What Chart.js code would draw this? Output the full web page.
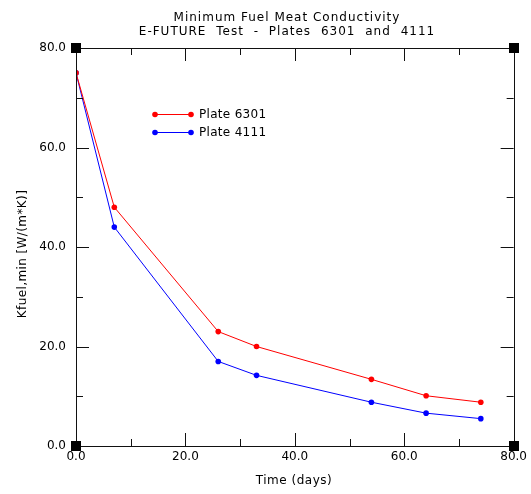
<!DOCTYPE html>
<html>
<head>
<meta charset="utf-8">
<script src="https://cdn.jsdelivr.net/npm/chart.js@4/dist/chart.umd.min.js"></script>
<style>
html,body{margin:0;padding:0;background:#fff;}
#wrap{width:531px;height:494px;position:relative;}
</style>
</head>
<body>
<div id="wrap"><canvas id="c" width="531" height="494"></canvas></div>
<script>
const titleLines = ["Minimum Fuel Meat Conductivity", "E-FUTURE Test - Plates 6301 and 4111"];
const xTitle = "Time (days)";
const yTitle = "Kfuel,min [W/(m*K)]";
const days = [0, 7, 26, 33, 54, 64, 74];
const plate6301 = [75, 48, 23, 20, 13.4, 10.1, 8.8];
const plate4111 = [75, 44, 17, 14.2, 8.8, 6.6, 5.5];
const seriesNames = ["Plate 6301", "Plate 4111"];
const seriesColors = ["#ff0000", "#0000ff"];
const axisMin = 0, axisMax = 80, majorStep = 20, minorStep = 10;

const FONT = "DejaVu Sans";

function pts(xs, ys){ return xs.map((x,i)=>({x:x, y:ys[i]})); }

const decor = {
  id: 'decor',
  afterDraw(chart){
    const ctx = chart.ctx;
    const a = chart.chartArea;
    const xs = chart.scales.x, ys = chart.scales.y;
    ctx.save();
    ctx.strokeStyle = '#111';
    ctx.lineWidth = 1;
    // box
    ctx.strokeRect(Math.round(a.left)+0.5, Math.round(a.top)+0.5, Math.round(a.right-a.left), Math.round(a.bottom-a.top));
    // ticks
    ctx.beginPath();
    for(let v=axisMin; v<=axisMax; v+=minorStep){
      const len = (v % majorStep === 0) ? 13 : 7;
      const px = Math.round(xs.getPixelForValue(v))+0.5;
      ctx.moveTo(px, a.bottom); ctx.lineTo(px, a.bottom-len);
      ctx.moveTo(px, a.top); ctx.lineTo(px, a.top+len);
      const py = Math.round(ys.getPixelForValue(v))+0.5;
      ctx.moveTo(a.left, py); ctx.lineTo(a.left+len, py);
      ctx.moveTo(a.right, py); ctx.lineTo(a.right-len, py);
    }
    ctx.stroke();
    // corner squares
    ctx.fillStyle = '#000';
    [[a.left,a.top],[a.right,a.top],[a.left,a.bottom],[a.right,a.bottom]].forEach(([cx,cy])=>{
      ctx.fillRect(Math.round(cx)-5, Math.round(cy)-5, 10, 10);
    });
    // titles
    ctx.fillStyle = '#000';
    ctx.font = '12px "' + FONT + '"';
    ctx.textAlign = 'center';
    ctx.textBaseline = 'alphabetic';
    ctx.letterSpacing = '1px';
    ctx.wordSpacing = '0px';
    ctx.fillText(titleLines[0], 287, 21);
    ctx.wordSpacing = '5px';
    ctx.fillText(titleLines[1], 287, 35);
    ctx.wordSpacing = '0px';
    ctx.letterSpacing = '0.5px';
    ctx.fillText(xTitle, 294, 484);
    ctx.save();
    ctx.translate(26, 254);
    ctx.rotate(-Math.PI/2);
    ctx.letterSpacing = '0.4px';
    ctx.fillText(yTitle, 0, 0);
    ctx.restore();
    // legend
    ctx.letterSpacing = '0.3px';
    const ly = [114, 132];
    for(let i=0;i<2;i++){
      ctx.strokeStyle = seriesColors[i];
      ctx.fillStyle = seriesColors[i];
      ctx.beginPath();
      ctx.moveTo(155, ly[i]+0.5); ctx.lineTo(191, ly[i]+0.5);
      ctx.stroke();
      [155,191].forEach(x=>{ctx.beginPath(); ctx.arc(x, ly[i]+0.5, 2.8, 0, Math.PI*2); ctx.fill();});
      ctx.fillStyle = '#000';
      ctx.textAlign = 'left';
      ctx.textBaseline = 'middle';
      ctx.fillText(seriesNames[i], 199, ly[i]+1);
    }
    ctx.restore();
  }
};

new Chart(document.getElementById('c'), {
  type: 'line',
  data: {
    datasets: [
      {label: seriesNames[0], data: pts(days, plate6301), borderColor: seriesColors[0], backgroundColor: seriesColors[0], borderWidth: 1, pointRadius: 2.8, pointBorderWidth: 0, tension: 0},
      {label: seriesNames[1], data: pts(days, plate4111), borderColor: seriesColors[1], backgroundColor: seriesColors[1], borderWidth: 1, pointRadius: 2.8, pointBorderWidth: 0, tension: 0}
    ]
  },
  options: {
    responsive: false,
    animation: false,
    devicePixelRatio: 1,
    layout: {padding: {top: 48, right: 17, left: 0, bottom: 0}},
    plugins: {legend: {display: false}, title: {display: false}, tooltip: {enabled: false}},
    scales: {
      x: {
        type: 'linear', min: axisMin, max: axisMax,
        grid: {display: false, drawTicks: false},
        border: {display: false},
        ticks: {stepSize: majorStep, color: '#000', font: {family: FONT, size: 12}, padding: 4, maxRotation: 0, callback: v => v.toFixed(1)},
        afterFit(s){ s.height = 48; }
      },
      y: {
        type: 'linear', min: axisMin, max: axisMax,
        grid: {display: false, drawTicks: false},
        border: {display: false},
        ticks: {stepSize: majorStep, color: '#000', font: {family: FONT, size: 12}, padding: 10, callback: v => v.toFixed(1)},
        afterFit(s){ s.width = 76; }
      }
    }
  },
  plugins: [decor]
});
</script>
</body>
</html>
